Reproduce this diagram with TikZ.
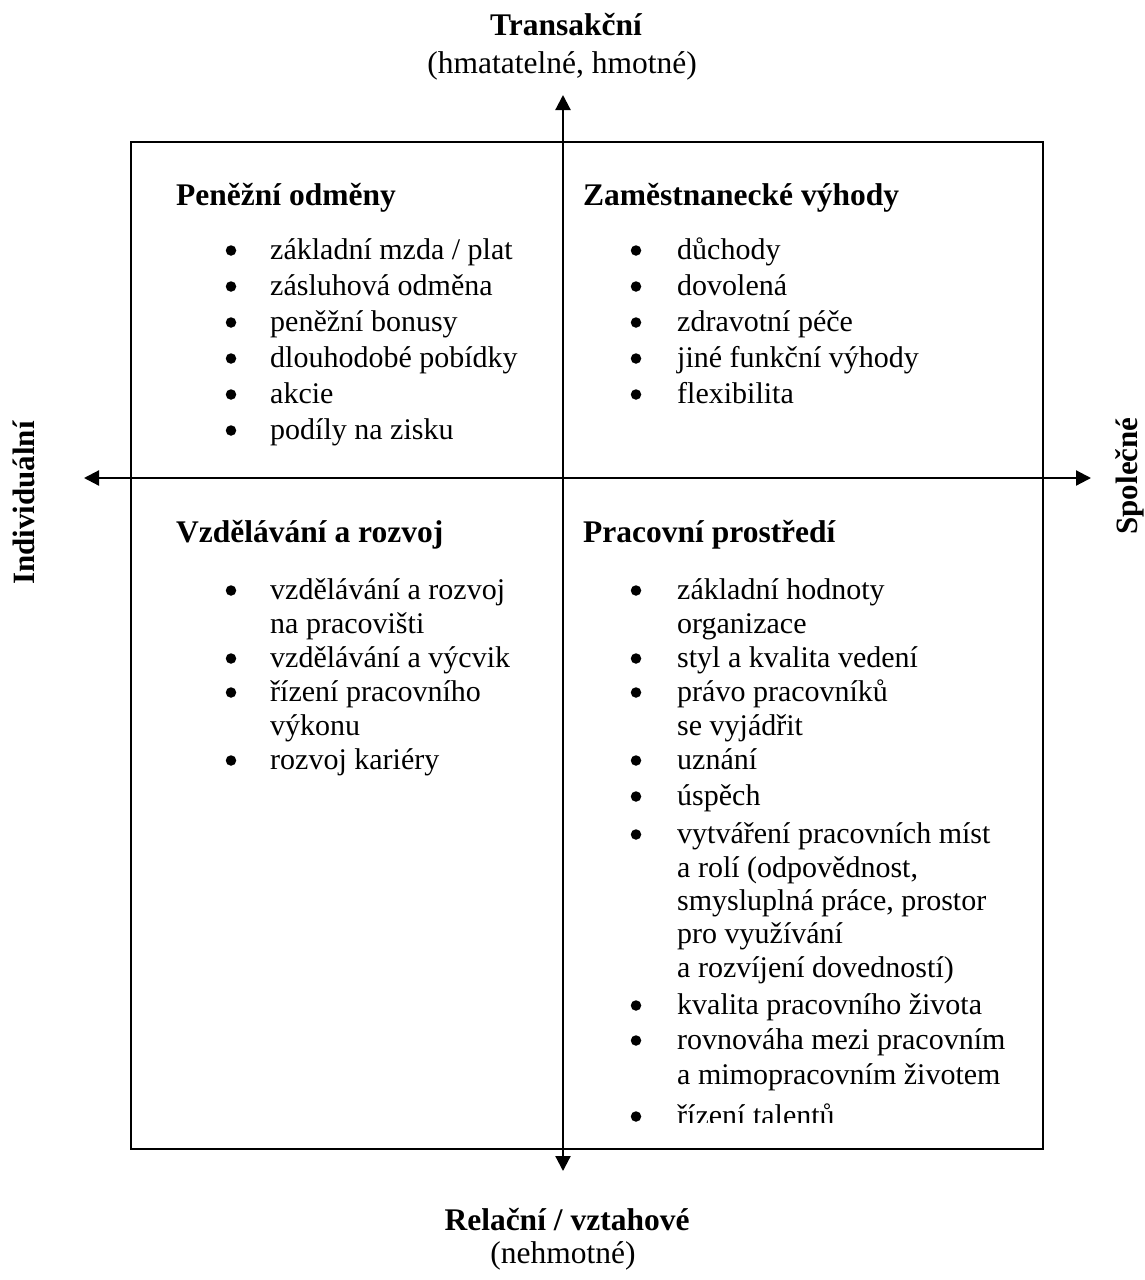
\documentclass[tikz,border=0pt]{standalone}
\usepackage{fontspec}
\setmainfont{Liberation Serif}
\usetikzlibrary{arrows.meta}

\tikzset{
  axis/.style={line width=2.2pt, {Triangle[length=15pt,width=15pt]}-{Triangle[length=15pt,width=15pt]}},
  frame/.style={line width=2.6pt},
  heading/.style={anchor=base west, inner sep=0pt, font=\fontsize{31.5}{36}\selectfont\bfseries},
  title/.style={anchor=base, inner sep=0pt, font=\fontsize{31.5}{36}\selectfont\bfseries},
  subtitle/.style={anchor=base, inner sep=0pt, font=\fontsize{31.5}{36}\selectfont},
  side/.style={inner sep=0pt, rotate=90, font=\fontsize{31}{36}\selectfont\bfseries},
  item/.style={anchor=base west, inner sep=0pt, font=\fontsize{30}{36}\selectfont},
  dot/.style={circle, fill=black, inner sep=0pt, minimum size=10.5pt}
}

% bullet at x=#1, text at x=#2, baseline #3, node name #4, text #5
\newcommand{\bulletline}[5]{%
  \node[dot] (#4b) at (#1,#3-8.5) {};
  \node[item] (#4) at (#2,#3) {#5};}
\newcommand{\contline}[4]{%
  \node[item] (#3) at (#1,#2) {#4};}

\begin{document}
\begin{tikzpicture}[x=1pt,y=-1pt]
\useasboundingbox (0,0) rectangle (1145,1280);

% outer frame
\draw[frame] (131,142) rectangle (1043,1149);

% axes
\coordinate (ytop) at (563,95);
\coordinate (ybot) at (563,1171);
\coordinate (xleft) at (84,478);
\coordinate (xright) at (1091,478);
\draw[axis] (ytop) -- (ybot);
\draw[axis] (xleft) -- (xright);

% axis labels
\node[title] (ttop) at (566,35) {Transakční};
\node[subtitle] (ttopsub) at (562,73) {(hmatatelné, hmotné)};
\node[title] (tbot) at (567,1230) {Relační / vztahové};
\node[subtitle] (tbotsub) at (563,1263) {(nehmotné)};
\node[side] (tleft) at (24,503) {Individuální};
\node[side] (tright) at (1130,476) {Společné};

% top left quadrant
\node[heading] (hTL) at (176,205) {Peněžní odměny};
\bulletline{231}{270}{259}{tl1}{základní mzda / plat}
\bulletline{231}{270}{295}{tl2}{zásluhová odměna}
\bulletline{231}{270}{331}{tl3}{peněžní bonusy}
\bulletline{231}{270}{367}{tl4}{dlouhodobé pobídky}
\bulletline{231}{270}{403}{tl5}{akcie}
\bulletline{231}{270}{439}{tl6}{podíly na zisku}

% top right quadrant
\node[heading] (hTR) at (583,205) {Zaměstnanecké výhody};
\bulletline{636}{677}{259}{tr1}{důchody}
\bulletline{636}{677}{295}{tr2}{dovolená}
\bulletline{636}{677}{331}{tr3}{zdravotní péče}
\bulletline{636}{677}{367}{tr4}{jiné funkční výhody}
\bulletline{636}{677}{403}{tr5}{flexibilita}

% bottom left quadrant
\node[heading] (hBL) at (176,542) {Vzdělávání a rozvoj};
\bulletline{231}{270}{599}{bl1}{vzdělávání a rozvoj}
\contline{270}{633}{bl1c}{na pracovišti}
\bulletline{231}{270}{667}{bl2}{vzdělávání a výcvik}
\bulletline{231}{270}{701}{bl3}{řízení pracovního}
\contline{270}{735}{bl3c}{výkonu}
\bulletline{231}{270}{769}{bl4}{rozvoj kariéry}

% bottom right quadrant (last line cut off by the frame's text area)
\node[heading] (hBR) at (583,542) {Pracovní prostředí};
\begin{scope}
\clip (563,480) rectangle (1043,1122);
\bulletline{636}{677}{599}{br1}{základní hodnoty}
\contline{677}{633}{br1c}{organizace}
\bulletline{636}{677}{667}{br2}{styl a kvalita vedení}
\bulletline{636}{677}{701}{br3}{právo pracovníků}
\contline{677}{735}{br3c}{se vyjádřit}
\bulletline{636}{677}{769}{br4}{uznání}
\bulletline{636}{677}{805}{br5}{úspěch}
\bulletline{636}{677}{843}{br6}{vytváření pracovních míst}
\contline{677}{877}{br6c}{a rolí (odpovědnost,}
\contline{677}{910}{br6d}{smysluplná práce, prostor}
\contline{677}{943}{br6e}{pro využívání}
\contline{677}{977}{br6f}{a rozvíjení dovedností)}
\bulletline{636}{677}{1014}{br7}{kvalita pracovního života}
\bulletline{636}{677}{1049}{br8}{rovnováha mezi pracovním}
\contline{677}{1084}{br8c}{a mimopracovním životem}
\bulletline{636}{677}{1125}{br9}{řízení talentů}
\end{scope}
\end{tikzpicture}
\end{document}
